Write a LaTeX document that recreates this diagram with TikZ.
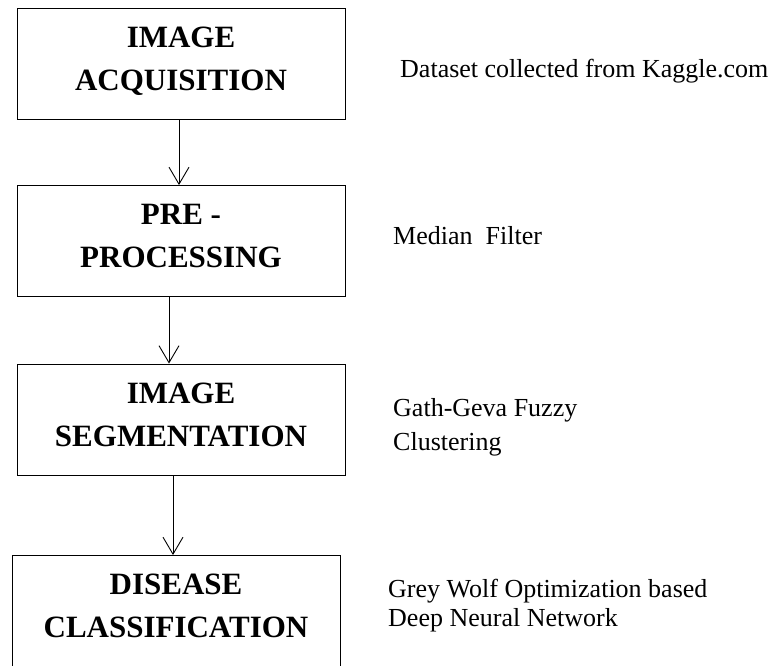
\documentclass[tikz,border=0pt]{standalone}
\usepackage{fontspec}
\setmainfont{Liberation Serif}
\usetikzlibrary{positioning,arrows.meta}

\begin{document}
\begin{tikzpicture}[x=1pt, y=-1pt, >={Straight Barb[length=17pt,width=20pt]},
  box/.style={draw, line width=0.9pt, minimum width=328pt, minimum height=111pt,
              inner sep=0pt, align=center, text depth=10pt,
              font=\fontsize{31}{43}\selectfont\bfseries},
  note/.style={anchor=base west, align=left, inner sep=0pt,
               font=\fontsize{26}{34}\selectfont}]

  \useasboundingbox (0,0) rectangle (781,665);

  %% ─── Processing stages ─────────────────────────────────────────────────
  \node[box] (acq_box) at (181, 63.5) {IMAGE\\ACQUISITION};
  \node[box] (pre_box) at (181, 241)  {PRE -\\PROCESSING};
  \node[box] (seg_box) at (181, 419.5) {IMAGE\\SEGMENTATION};
  \node[box] (cls_box) at (176, 611)  {DISEASE\\CLASSIFICATION};

  \draw[->, line width=0.9pt] ([xshift=-2pt]acq_box.south) -- ([xshift=-2pt]pre_box.north);
  \draw[->, line width=0.9pt] ([xshift=-12pt]pre_box.south) -- ([xshift=-12pt]seg_box.north);
  \draw[->, line width=0.9pt] ([xshift=-8pt]seg_box.south) -- ([xshift=-3pt]cls_box.north);

  %% ─── Methods (base = last line) ────────────────────────────────────────
  \node[note] (acq_note) at (400, 77)  {Dataset collected from Kaggle.com};
  \node[note] (pre_note) at (393, 244) {Median\ \ Filter};
  \node[note] (seg_note) at (393, 450) {Gath-Geva Fuzzy\\Clustering};
  \node[note, font=\fontsize{26}{29}\selectfont] (cls_note) at (388, 626)
      {Grey Wolf Optimization based\\Deep Neural Network};
\end{tikzpicture}
\end{document}
